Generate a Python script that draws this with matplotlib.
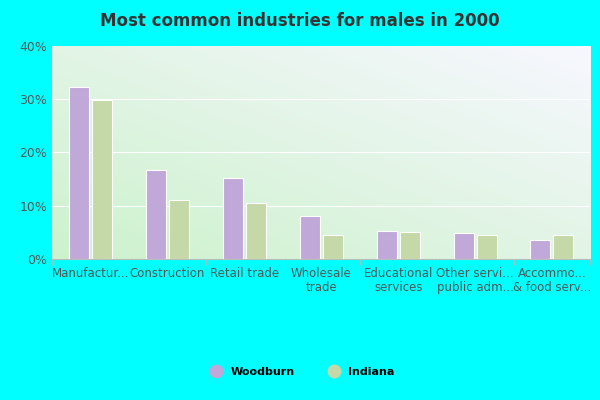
import matplotlib.pyplot as plt
import numpy as np
from matplotlib.lines import Line2D

categories = ["Manufactur...", "Construction", "Retail trade", "Wholesale\ntrade",
              "Educational\nservices", "Other servi...\npublic adm...", "Accommo...\n& food serv..."]
woodburn = [32.2, 16.6, 15.2, 8.0, 5.3, 4.9, 3.6]
indiana = [29.8, 11.0, 10.4, 4.4, 5.0, 4.5, 4.5]

fig = plt.figure(figsize=(6, 4), dpi=100, facecolor="#00ffff")
ax = fig.add_axes([0.087, 0.353, 0.897, 0.532])

# gradient background: green bottom-left, white top-right
gx, gy = np.meshgrid(np.linspace(0, 1, 200), np.linspace(0, 1, 200))
t = np.clip(((1 - gx) + gy) / 2, 0, 1)
c1 = np.array([0.97, 0.97, 1.0])
c2 = np.array([0.80, 0.95, 0.80])
img = c1[None, None, :] * (1 - t[..., None]) + c2[None, None, :] * t[..., None]
ax.imshow(img, extent=[-0.5, 6.5, 0, 40], aspect="auto", origin="upper", zorder=0)

x = np.arange(len(categories))
w = 0.26
ax.bar(x - 0.15, woodburn, w, color="#c0a8d8", edgecolor="white", linewidth=0.8, zorder=3)
ax.bar(x + 0.15, indiana, w, color="#c4d8a8", edgecolor="white", linewidth=0.8, zorder=3)

ax.set_xlim(-0.5, 6.5)
ax.set_ylim(0, 40)
ax.set_yticks([0, 10, 20, 30, 40])
ax.set_yticklabels(["0%", "10%", "20%", "30%", "40%"], color="#555555", fontsize=9)
ax.set_xticks(x)
ax.set_xticklabels(categories, color="#555555", fontsize=8.5, linespacing=1.1)
ax.set_xticks(np.arange(-0.5, 7, 1), minor=True)
ax.tick_params(axis="x", which="major", length=0, pad=6)
ax.tick_params(axis="x", which="minor", length=4, color="#bbbbbb")
ax.tick_params(axis="y", length=0)
for yv in [10, 20, 30]:
    ax.axhline(yv, color="white", linewidth=0.8, zorder=1)
for s in ["top", "right", "left"]:
    ax.spines[s].set_visible(False)
ax.spines["bottom"].set_color("#bbbbbb")

fig.suptitle("Most common industries for males in 2000", y=0.97, fontsize=12,
             fontweight="bold", color="#333333")
handles = [Line2D([], [], marker="o", ls="", ms=9, color="#c0a8d8"),
           Line2D([], [], marker="o", ls="", ms=9, color="#c4d8a8")]
fig.legend(handles, ["Woodburn", "Indiana"], loc="center", bbox_to_anchor=(0.5, 0.07),
           ncol=2, frameon=False, handletextpad=0.3, columnspacing=2.5,
           prop={"weight": "bold", "size": 8})
fig.savefig("out.png", facecolor=fig.get_facecolor())
